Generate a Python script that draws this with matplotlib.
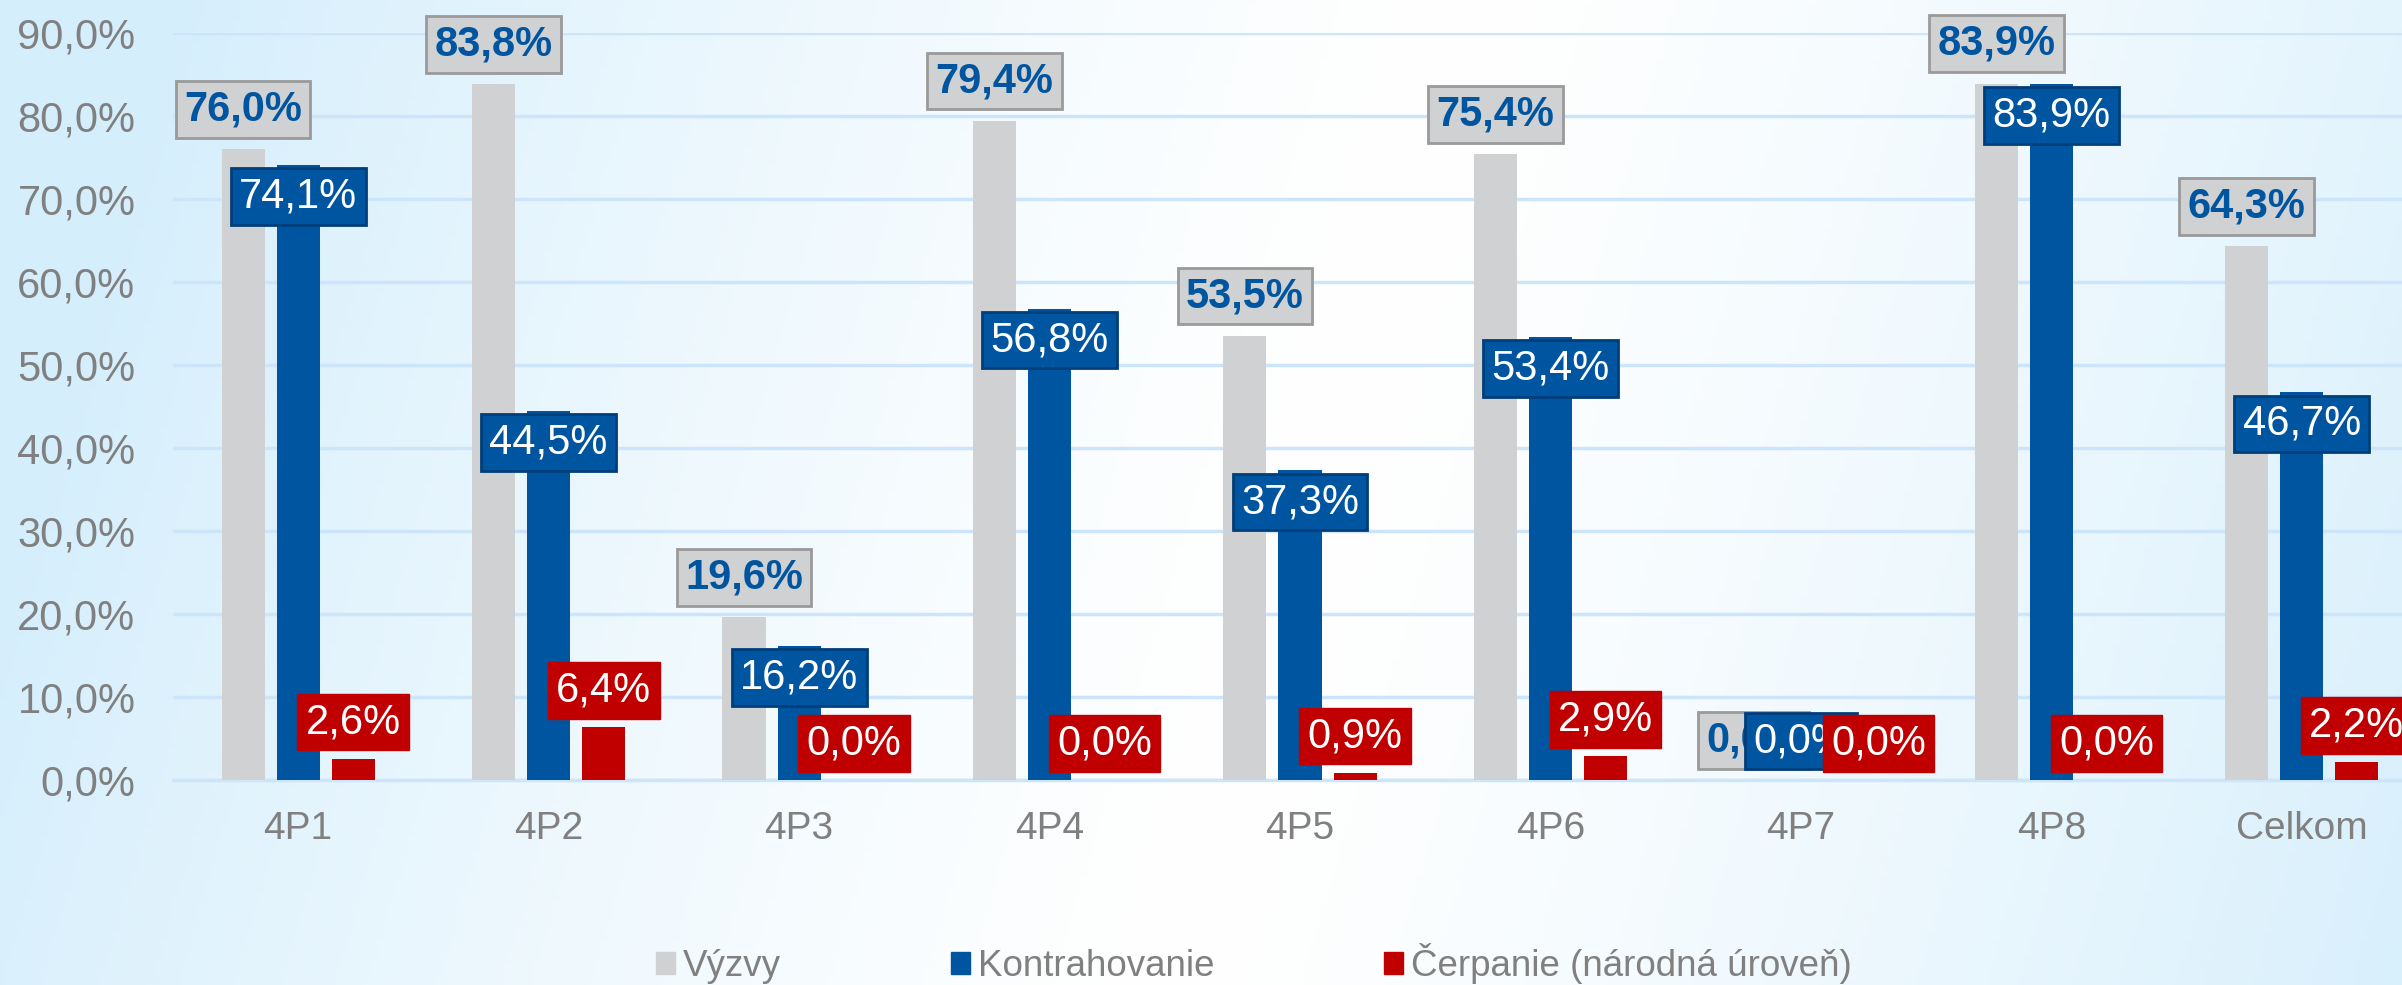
import numpy as np
import matplotlib.pyplot as plt
from matplotlib.patches import Patch

plt.rcParams['font.family'] = ['Liberation Sans', 'DejaVu Sans']

kategorie = ['4P1', '4P2', '4P3', '4P4', '4P5', '4P6', '4P7', '4P8', 'Celkom']
vyzvy = [76.0, 83.8, 19.6, 79.4, 53.5, 75.4, 0.0, 83.9, 64.3]
kontrahovanie = [74.1, 44.5, 16.2, 56.8, 37.3, 53.4, 0.0, 83.9, 46.7]
cerpanie = [2.6, 6.4, 0.0, 0.0, 0.9, 2.9, 0.0, 0.0, 2.2]
nazvy = ['Výzvy', 'Kontrahovanie', 'Čerpanie (národná úroveň)']

c_sivá = '#D0D1D3'
c_modrá = '#0055A0'
c_červená = '#C00000'
c_text = '#808080'

def fmt(v):
    return f'{v:.1f}'.replace('.', ',') + '%'

fig = plt.figure(figsize=(24.02, 9.85), dpi=100)

# pozadie - prechod
bg = fig.add_axes([0, 0, 1, 1], zorder=-10)
xx, yy = np.meshgrid(np.linspace(0, 1, 400), np.linspace(0, 1, 200))
t = xx - 0.12 * (yy - 0.5)
k = np.clip(np.abs(t - 0.55) / 0.55, 0, 1) ** 1.3
modra = np.array([212, 238, 252]) / 255.0
img = 1 - k[..., None] * (1 - modra)
bg.imshow(img, aspect='auto', extent=[0, 1, 0, 1], origin='lower')
bg.axis('off')

ax = fig.add_axes([0.0720, 0.208, 0.9280, 0.7585])
ax.set_facecolor('none')

x = np.arange(len(kategorie))
w = 0.172
off = 0.22
ax.bar(x - off, vyzvy, w, color=c_sivá, zorder=3)
ax.bar(x, kontrahovanie, w, color=c_modrá, zorder=3)
ax.bar(x + off, cerpanie, w, color=c_červená, zorder=3)

# popisky (pri 4P7 su popisky posunute, aby sa prekryvali ako v originali)
posun_siv = [0, 0, 0, 0, 0, 0, 0.03, 0, 0]
posun_cerv = [0, 0, 0, 0, 0, 0, 0.09, 0, 0]
for i in range(len(kategorie)):
    ax.text(x[i] - off + posun_siv[i], vyzvy[i] + 4.8, fmt(vyzvy[i]), ha='center', va='center',
            fontsize=30, fontweight='bold', color=c_modrá, zorder=5,
            bbox=dict(boxstyle='square,pad=0.2', fc=c_sivá, ec='#9A9A9A', lw=2))
    ax.text(x[i], max(kontrahovanie[i] - 3.8, 4.7), fmt(kontrahovanie[i]), ha='center', va='center',
            fontsize=30, color='white', zorder=6,
            bbox=dict(boxstyle='square,pad=0.2', fc=c_modrá, ec='#003E7A', lw=2))
    ax.text(x[i] + off + posun_cerv[i], cerpanie[i] + 4.4, fmt(cerpanie[i]), ha='center', va='center',
            fontsize=30, color='white', zorder=7,
            bbox=dict(boxstyle='square,pad=0.2', fc=c_červená, ec=c_červená, lw=1))

ax.set_xlim(-0.5, 8.40)
ax.set_ylim(0, 90)
ax.set_yticks(np.arange(0, 91, 10))
ax.set_yticklabels([fmt(v) for v in np.arange(0, 91, 10)])
ax.set_xticks(x)
ax.set_xticklabels(kategorie)
ax.tick_params(axis='y', labelsize=30, colors=c_text, length=0, pad=27)
ax.tick_params(axis='x', labelsize=28, colors=c_text, length=0, pad=22)
ax.grid(axis='y', color='#CDE5FA', lw=2.5, zorder=0)
for s in ['top', 'right', 'left']:
    ax.spines[s].set_visible(False)
ax.spines['bottom'].set_color('#CDE5FA')
ax.spines['bottom'].set_linewidth(2.5)

handles = [Patch(color=c) for c in [c_sivá, c_modrá, c_červená]]
fig.legend(handles, nazvy, loc='center', bbox_to_anchor=(0.522, 0.022), ncol=3,
           frameon=False, fontsize=26.5, labelcolor=c_text, handlelength=0.52,
           handleheight=0.52, handletextpad=0.22, columnspacing=4.6)

fig.savefig('out.png', dpi=100)
